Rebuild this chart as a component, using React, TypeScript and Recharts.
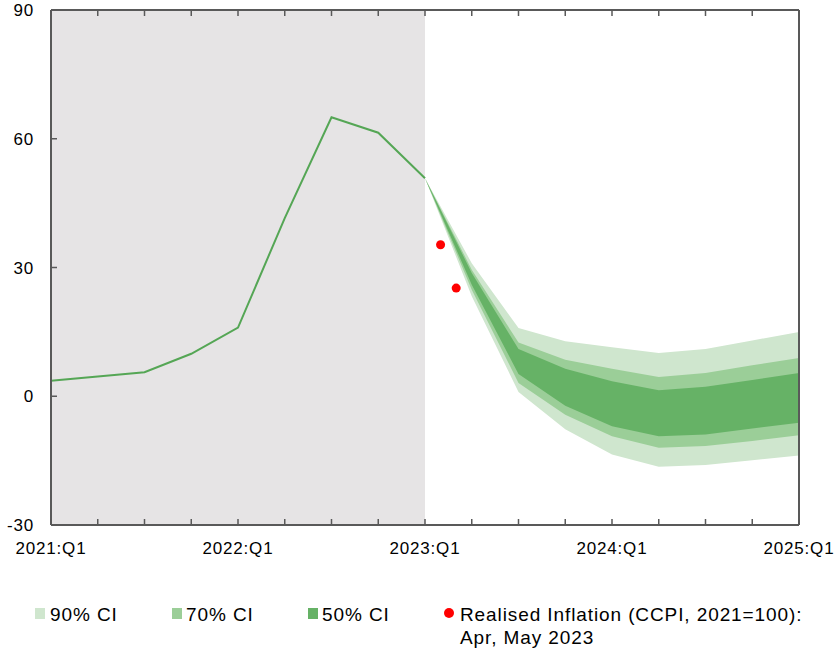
import React from 'react';
import {
  ComposedChart, Line, Area, Scatter, XAxis, YAxis, ReferenceArea,
} from 'recharts';

// quarter index 0 = 2021:Q1 ... 16 = 2025:Q1
const quarters = [0, 1, 2, 3, 4, 5, 6, 7, 8, 9, 10, 11, 12, 13, 14, 15, 16];
const yearLabels = ['2021:Q1', '2022:Q1', '2023:Q1', '2024:Q1', '2025:Q1'];
const yTicks = [-30, 0, 30, 60, 90];

// historical inflation (y/y, %)
const history = [3.6, 4.6, 5.6, 9.9, 16.0, 41.5, 65.0, 61.4, 50.8];

// fan chart bands from 2023:Q1 onward (low, high)
const ci90Low = [50.8, 23.3, 1.0, -7.7, -13.6, -16.4, -16.0, -14.9, -13.8];
const ci90High = [50.8, 31.0, 15.9, 12.8, 11.4, 10.1, 11.0, 13.0, 15.0];
const ci70Low = [50.8, 24.8, 3.1, -4.3, -9.3, -12.0, -11.6, -10.4, -9.1];
const ci70High = [50.8, 29.5, 12.5, 8.5, 6.4, 4.5, 5.4, 7.2, 8.9];
const ci50Low = [50.8, 26.0, 5.2, -2.2, -7.0, -9.3, -8.9, -7.5, -6.2];
const ci50High = [50.8, 28.7, 11.0, 6.4, 3.5, 1.4, 2.2, 3.8, 5.4];

// realised monthly readings, Apr and May 2023
const realisedQ = [8.333, 8.667];
const realisedVal = [35.3, 25.2];

const fanStart = 8;
const axisColor = '#595959';
const font = '"Liberation Sans", Arial, sans-serif';
const c90 = '#CFE6CE';
const c70 = '#9BCE98';
const c50 = '#66B266';

const data = quarters.map((q) => {
  const row: any = { q };
  if (q < history.length) row.hist = history[q];
  const i = q - fanStart;
  if (i >= 0) {
    row.b90 = [ci90Low[i], ci90High[i]];
    row.b70 = [ci70Low[i], ci70High[i]];
    row.b50 = [ci50Low[i], ci50High[i]];
  }
  return row;
});

const realised = realisedQ.map((q, i) => ({ q, v: realisedVal[i] }));

const BottomTick = (props: any) => {
  const { x, y, payload } = props;
  const label = payload.value % 4 === 0 ? yearLabels[payload.value / 4] : null;
  return (
    <g>
      <line x1={x} x2={x} y1={y} y2={y - 6} stroke={axisColor} strokeWidth={1.5} />
      {label && (
        <text x={x} y={y + 29} textAnchor="middle" fontSize={17} fill="#000" fontFamily={font} letterSpacing={0.8}>
          {label}
        </text>
      )}
    </g>
  );
};

const TopTick = (props: any) => {
  const { x, y } = props;
  return <line x1={x} x2={x} y1={y} y2={y + 6} stroke={axisColor} strokeWidth={1.5} />;
};

const LeftTick = (props: any) => {
  const { x, y, payload } = props;
  return (
    <g>
      <line x1={x} x2={x + 6} y1={y} y2={y} stroke={axisColor} strokeWidth={1.5} />
      <text x={x - 17} y={y + 6} textAnchor="end" fontSize={17} fill="#000" fontFamily={font} letterSpacing={0.8}>
        {payload.value}
      </text>
    </g>
  );
};

const RightTick = (props: any) => {
  const { x, y } = props;
  return <line x1={x} x2={x - 6} y1={y} y2={y} stroke={axisColor} strokeWidth={1.5} />;
};

const legendText: React.CSSProperties = {
  position: 'absolute', fontSize: 19, fontFamily: font, color: '#000', letterSpacing: 0.9, lineHeight: '23px',
};

const Swatch = ({ left, color }: { left: number; color: string }) => (
  <div style={{ position: 'absolute', left, top: 608, width: 10, height: 11, background: color }} />
);

export default function App() {
  return (
    <div style={{ position: 'absolute', left: 0, top: 0, width: 835, height: 657, background: '#fff' }}>
      <ComposedChart width={835} height={657} data={data} margin={{ top: 9, right: 35, bottom: 92, left: 0 }}>
        <ReferenceArea x1={0} x2={fanStart} y1={-30} y2={90} fill="#E6E4E5" fillOpacity={1} stroke="none" />
        <XAxis
          dataKey="q" type="number" domain={[0, 16]} ticks={quarters} interval={0}
          height={40} tickSize={0} tickMargin={0} tickLine={false}
          axisLine={{ stroke: axisColor, strokeWidth: 2 }} tick={<BottomTick />}
        />
        <XAxis
          xAxisId="top" orientation="top" dataKey="q" type="number" domain={[0, 16]} ticks={quarters}
          interval={0} height={1} tickSize={0} tickMargin={0} tickLine={false}
          axisLine={{ stroke: axisColor, strokeWidth: 2 }} tick={<TopTick />}
        />
        <YAxis
          type="number" domain={[-30, 90]} ticks={yTicks} interval={0} width={51}
          tickSize={0} tickMargin={0} tickLine={false}
          axisLine={{ stroke: axisColor, strokeWidth: 2 }} tick={<LeftTick />}
        />
        <YAxis
          yAxisId="right" orientation="right" type="number" domain={[-30, 90]} ticks={yTicks}
          interval={0} width={1} tickSize={0} tickMargin={0} tickLine={false}
          axisLine={{ stroke: axisColor, strokeWidth: 2 }} tick={<RightTick />}
        />
        <Area dataKey="b90" type="linear" fill={c90} fillOpacity={1} stroke="none" isAnimationActive={false} dot={false} activeDot={false} />
        <Area dataKey="b70" type="linear" fill={c70} fillOpacity={1} stroke="none" isAnimationActive={false} dot={false} activeDot={false} />
        <Area dataKey="b50" type="linear" fill={c50} fillOpacity={1} stroke="none" isAnimationActive={false} dot={false} activeDot={false} />
        <Line dataKey="hist" type="linear" stroke="#55A655" strokeWidth={2} dot={false} activeDot={false} isAnimationActive={false} />
        <Scatter data={realised} dataKey="v" fill="#FF0000" shape="circle" isAnimationActive={false} />
      </ComposedChart>

      <Swatch left={35} color={c90} />
      <div style={{ ...legendText, left: 50, top: 603 }}>90% CI</div>
      <Swatch left={172} color={c70} />
      <div style={{ ...legendText, left: 186, top: 603 }}>70% CI</div>
      <Swatch left={308} color={c50} />
      <div style={{ ...legendText, left: 322, top: 603 }}>50% CI</div>
      <div style={{ position: 'absolute', left: 444, top: 608, width: 10, height: 10, borderRadius: 5, background: '#FF0000' }} />
      <div style={{ ...legendText, left: 460, top: 603 }}>
        Realised Inflation (CCPI, 2021=100):
        <br />
        Apr, May 2023
      </div>
    </div>
  );
}
